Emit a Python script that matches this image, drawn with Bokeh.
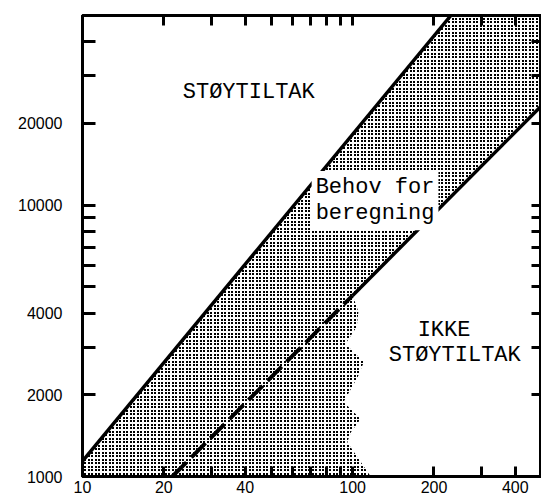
import base64
import struct
import zlib

from bokeh.plotting import figure
from bokeh.models import LogAxis, FixedTicker, Range1d, ImageURLTexture
from bokeh.embed import file_html
from bokeh.resources import INLINE
from bokeh.core.properties import value

# axis ranges
X_MIN, X_MAX = 10, 500
Y_MIN, Y_MAX = 1000, 50000

# tick positions and labels
x_ticks = [10, 20, 30, 40, 50, 60, 70, 80, 90, 100, 200, 300, 400]
x_labels = ["10", "20", "", "40", "", "", "", "", "", "100", "200", "", "400"]
y_ticks = [1000, 2000, 3000, 4000, 5000, 6000, 7000, 8000, 9000, 10000, 20000, 30000, 40000]
y_labels = ["1000", "2000", "", "4000", "", "", "", "", "", "10000", "20000", "", ""]

# upper solid boundary
upper_x = [10, 231]
upper_y = [1140, 50000]
# lower boundary: dashed part, then solid part
dashed_x = [21.5, 100]
dashed_y = [1000, 4650]
lower_x = [100, 500]
lower_y = [4650, 23250]
# scalloped right edge of the shaded area below the dashed line
wave_x = [100, 105, 103.5, 94, 110, 104.5, 92.5, 107, 98.5, 95.5, 116.6]
wave_y = [4650, 4050, 3560, 3080, 2640, 2330, 1880, 1630, 1455, 1336, 1000]

MONO = value("Liberation Mono")


def stipple_tile_url(tile=7, offsets=(0, 4), dot=2):
    """Small transparent PNG tile with black square dots (screen-print stipple)."""
    rows = []
    for yy in range(tile):
        row = bytearray([0])
        for xx in range(tile):
            on = any(o <= yy < o + dot for o in offsets) and any(o <= xx < o + dot for o in offsets)
            row += bytes([0, 0, 0, 255]) if on else bytes([0, 0, 0, 0])
        rows.append(bytes(row))
    raw = b"".join(rows)

    def chunk(tag, data):
        c = struct.pack(">I", len(data)) + tag + data
        return c + struct.pack(">I", zlib.crc32(tag + data) & 0xFFFFFFFF)

    png = b"\x89PNG\r\n\x1a\n"
    png += chunk(b"IHDR", struct.pack(">IIBBBBB", tile, tile, 8, 6, 0, 0, 0))
    png += chunk(b"IDAT", zlib.compress(raw))
    png += chunk(b"IEND", b"")
    return "data:image/png;base64," + base64.b64encode(png).decode()


p = figure(width=541, height=495, x_axis_type="log", y_axis_type="log",
           x_range=Range1d(X_MIN, X_MAX), y_range=Range1d(Y_MIN, Y_MAX),
           output_backend="svg", toolbar_location=None,
           min_border_left=82, min_border_right=0, min_border_top=15, min_border_bottom=0)
p.grid.visible = False
p.outline_line_color = "black"
p.outline_line_width = 3
p.background_fill_color = "white"
p.border_fill_color = "white"

# shaded area
px = [X_MIN] + upper_x + [X_MAX] + lower_x[::-1] + wave_x[1:]
py = [Y_MIN] + upper_y + [Y_MAX] + lower_y[::-1] + wave_y[1:]
stipple = ImageURLTexture(url=stipple_tile_url(), repetition="repeat")
p.patch(px, py, fill_color="white", fill_alpha=0.0, line_color=None,
        hatch_pattern="stipple", hatch_extra={"stipple": stipple}, hatch_alpha=1.0)

p.line(upper_x, upper_y, line_color="black", line_width=3.5)
p.line(lower_x, lower_y, line_color="black", line_width=3.5)
p.line(dashed_x, dashed_y, line_color="black", line_width=4, line_dash="20 7")

# texts
p.text(x=[23.5], y=[29040], text=["STØYTILTAK"], text_font=MONO, text_font_size="22px",
       text_baseline="top", text_align="left", text_color="black")
p.text(x=[70.5], y=[13360], text=["Behov for\nberegning"], text_font=MONO, text_font_size="22px",
       text_baseline="top", text_align="left", text_color="black", text_line_height=1.05,
       background_fill_color="white", padding=4)
p.text(x=[174], y=[3846], text=["IKKE"], text_font=MONO, text_font_size="22px",
       text_baseline="top", text_align="left", text_color="black")
p.text(x=[136], y=[3109], text=["STØYTILTAK"], text_font=MONO, text_font_size="22px",
       text_baseline="top", text_align="left", text_color="black")


def style_axis(ax, ticks, labels, tick_in, standoff, show_labels=True):
    ax.ticker = FixedTicker(ticks=ticks, minor_ticks=[])
    ax.major_label_overrides = dict(zip(ticks, labels))
    ax.major_tick_in = tick_in
    ax.major_tick_out = 0
    ax.major_tick_line_width = 3
    ax.major_tick_line_color = "black"
    ax.minor_tick_line_color = None
    ax.axis_line_width = 3
    ax.axis_line_color = "black"
    ax.major_label_standoff = standoff
    ax.major_label_text_font = "Liberation Sans"
    ax.major_label_text_color = "black"
    ax.major_label_text_font_size = "16px" if show_labels else "0px"


style_axis(p.xaxis[0], x_ticks, x_labels, 10, 4)
style_axis(p.yaxis[0], y_ticks, y_labels, 13, 20)

top = LogAxis()
style_axis(top, x_ticks, [""] * len(x_ticks), 10, 0, show_labels=False)
p.add_layout(top, "above")
right = LogAxis()
style_axis(right, y_ticks, [""] * len(y_ticks), 10, 0, show_labels=False)
p.add_layout(right, "right")

open("out.html", "w").write(file_html(p, INLINE))
